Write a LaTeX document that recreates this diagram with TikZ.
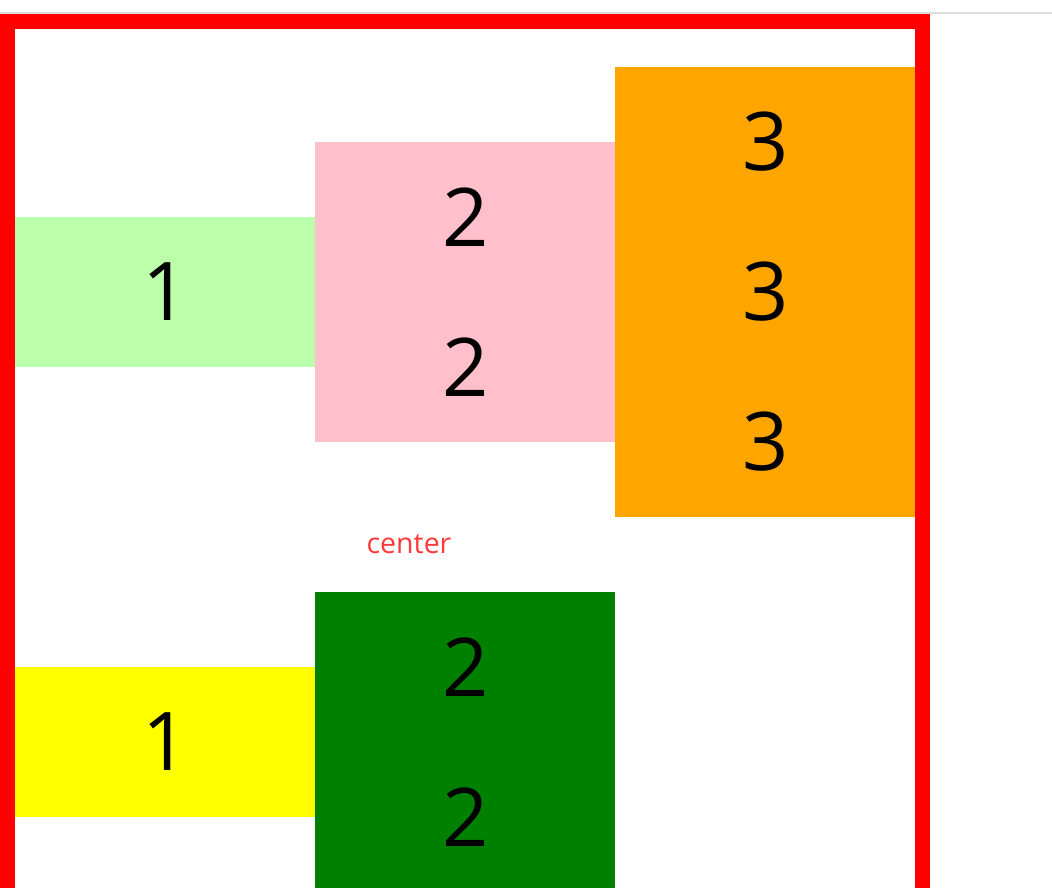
\documentclass[tikz,border=0pt]{standalone}
\usepackage{fontspec}
\setmainfont{Open Sans}
\definecolor{lgreen}{HTML}{BBFFAA}
\definecolor{pinkc}{HTML}{FFC0CB}
\definecolor{orangec}{HTML}{FFA500}
\definecolor{greenc}{HTML}{008000}
\definecolor{yellowc}{HTML}{FFFF00}
\definecolor{redc}{HTML}{FF0000}
\definecolor{grayline}{HTML}{DDDDDD}
\definecolor{centertxt}{HTML}{FF3A3A}
\tikzset{
  box/.style={draw=none, inner sep=0pt, outer sep=0pt, minimum width=300pt, anchor=north west},
  digit/.style={inner sep=0pt, outer sep=0pt, anchor=center, font=\fontsize{81}{81}\selectfont, text=black},
}
\begin{document}
\begin{tikzpicture}[x=1pt, y=-1pt]
\useasboundingbox (0,0) rectangle (1052,888);
\fill[white] (0,0) rectangle (1052,888);
% gray top line
\draw[grayline, line width=2pt] (0,13) -- (1052,13);
% row 1
\node[box, fill=lgreen, minimum height=150pt] (b1) at (15,217) {};
\node[box, fill=pinkc, minimum height=300pt] (b2) at (315,142) {};
\node[box, fill=orangec, minimum height=450pt] (b3) at (615,67) {};
\node[digit] (d1) at (166,292) {1};
\node[digit] (d2a) at (466,217) {2};
\node[digit] (d2b) at (466,367) {2};
\node[digit] (d3a) at (766,142) {3};
\node[digit] (d3b) at (766,292) {3};
\node[digit] (d3c) at (766,442) {3};
% label
\node[inner sep=0pt, anchor=base, text=centertxt, font=\fontsize{28.5}{28.5}\selectfont] (lbl) at (409,553) {center};
% row 2
\node[box, fill=yellowc, minimum height=150pt] (c1) at (15,667) {};
\node[box, fill=greenc, minimum height=300pt] (c2) at (315,592) {};
\node[digit] (e1) at (166,742) {1};
\node[digit] (e2a) at (466,667) {2};
\node[digit] (e2b) at (466,817) {2};
% red border
\draw[redc, line width=15pt] (7.5,21.5) rectangle (922.5,920);
\end{tikzpicture}
\end{document}
